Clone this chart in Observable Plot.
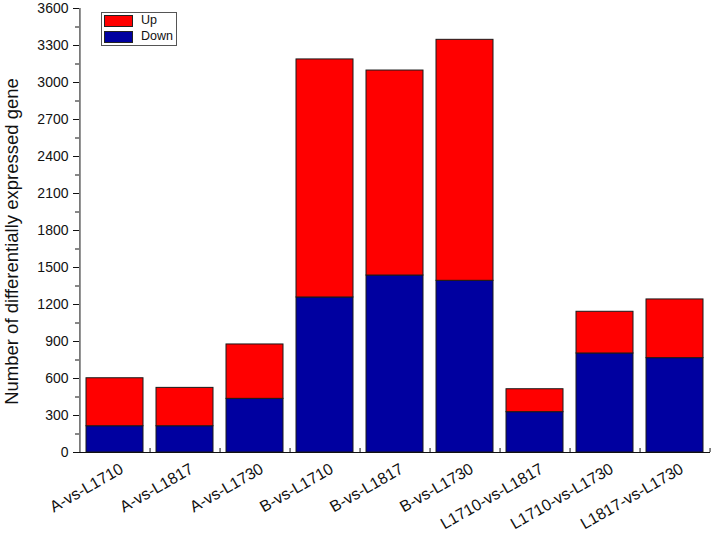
<!DOCTYPE html>
<html>
<head>
<meta charset="utf-8">
<script src="https://cdn.jsdelivr.net/npm/d3@7"></script>
<script src="https://cdn.jsdelivr.net/npm/@observablehq/plot@0.6"></script>
<style>
  html, body { margin: 0; padding: 0; background: #fff; }
  #wrap { position: relative; width: 716px; height: 536px; font-family: "Liberation Sans", Arial, sans-serif; }
  #legend { position: absolute; left: 101px; top: 12px; width: 74px; height: 32px; border: 1px solid #555; background: #fff; font-size: 12.5px; }
  .row { position: absolute; left: 2px; height: 11px; }
  .sw { position: absolute; left: 0; top: 0; width: 27px; height: 10px; border: 1px solid #222; }
  .lab { position: absolute; left: 37px; top: -2px; line-height: 14px; color: #111; }
</style>
</head>
<body>
<div id="wrap">
  <div id="chart"></div>
  <div id="legend"></div>
</div>
<script>
const categories = ["A-vs-L1710", "A-vs-L1817", "A-vs-L1730", "B-vs-L1710", "B-vs-L1817", "B-vs-L1730", "L1710-vs-L1817", "L1710-vs-L1730", "L1817-vs-L1730"];
const downValues = [213, 213, 435, 1257, 1435, 1392, 327, 803, 765];
const upValues   = [389, 311, 441, 1930, 1662, 1954, 186, 338, 476];
const seriesNames = ["Up", "Down"];
const seriesColors = ["#ff0000", "#0000a0"];
const yTickValues = [0, 300, 600, 900, 1200, 1500, 1800, 2100, 2400, 2700, 3000, 3300, 3600];
const yMinorTicks = [150, 450, 750, 1050, 1350, 1650, 1950, 2250, 2550, 2850, 3150, 3450];
const yLabel = "Number of differentially expressed gene";

const rows = [];
categories.forEach((c, i) => {
  rows.push({category: c, series: "Down", value: downValues[i]});
  rows.push({category: c, series: "Up", value: upValues[i]});
});

const W = 716, H = 536;
const mL = 79, mR = 6, mT = 8, mB = 84;
const step = (W - mL - mR) / categories.length;

const chart = Plot.plot({
  width: W,
  height: H,
  marginLeft: mL,
  marginRight: mR,
  marginTop: mT,
  marginBottom: mB,
  style: {fontFamily: "'Liberation Sans', Arial, sans-serif", background: "#fff", color: "#111"},
  x: {domain: categories, paddingInner: 0.19, paddingOuter: 0.095, axis: null},
  y: {domain: [0, 3600], axis: null},
  color: {domain: seriesNames, range: seriesColors},
  marks: [
    Plot.barY(rows, Plot.stackY({
      x: "category", y: "value", z: "series", fill: "series",
      order: ["Down", "Up"],
      stroke: "#1a1a1a", strokeWidth: 1
    })),
    Plot.axisY({ticks: yTickValues, tickSize: 6, tickPadding: 5, fontSize: 14, label: null, tickFormat: d => String(d)}),
    Plot.axisY({ticks: yMinorTicks, tickSize: 4, tickFormat: () => "", label: null}),
    Plot.ruleY([0], {stroke: "#111"}),
    Plot.ruleX([categories[0]], {dx: -step / 2, stroke: "#111"}),
    Plot.ruleX(categories, {dx: step / 2, insetTop: H - mT - mB - 4, stroke: "#111"}),
    Plot.text(categories, {x: d => d, y: () => 0, dy: 15, dx: 7, rotate: -30, textAnchor: "end", fontSize: 16, fill: "#111"}),
    Plot.text([yLabel], {frameAnchor: "left", textAnchor: "middle", dx: -67, dy: 11, rotate: -90, fontSize: 18.5, fill: "#111"})
  ]
});
document.getElementById("chart").appendChild(chart);

const legend = document.getElementById("legend");
seriesNames.forEach((s, i) => {
  const r = document.createElement("div");
  r.className = "row";
  r.style.top = (2 + i * 16) + "px";
  r.innerHTML = `<div class="sw" style="background:${seriesColors[i]}"></div><div class="lab">${s}</div>`;
  legend.appendChild(r);
});
</script>
</body>
</html>
